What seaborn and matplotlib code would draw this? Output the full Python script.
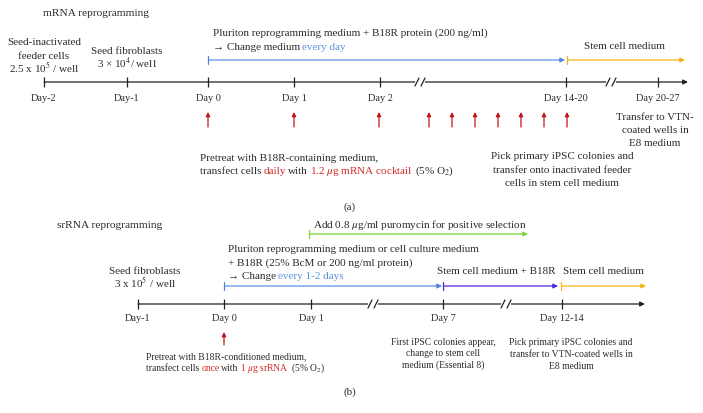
import numpy as np
import pandas as pd
import seaborn as sns
import matplotlib.pyplot as plt

# === Timeline data
MRNA_DAYS = ["Day-2", "Day-1", "Day 0", "Day 1", "Day 2", "Day 14-20", "Day 20-27"]
MRNA_X = [44, 127, 208, 294, 380, 566, 658]
MRNA_BREAKS = [420, 611]
MRNA_TRANSFECT_X = [208, 294, 379, 429, 452, 475, 498, 521, 544, 567]

SRNA_DAYS = ["Day-1", "Day 0", "Day 1", "Day 7", "Day 12-14"]
SRNA_X = [138, 224, 311, 443, 562]
SRNA_BREAKS = [373, 506]
SRNA_TRANSFECT_X = [224]

# medium phases: (start, end, colour)
MRNA_PHASES = [(208, 565, "blue"), (567, 685, "yellow")]
SRNA_PHASES = [(224, 442, "blue"), (443, 558, "purple"), (561, 646, "yellow")]
SRNA_SELECTION = (309, 528, "green")

# === Style
TXT = "#2b2b2b"
AXIS = "#222222"
RED = "#c0141c"
RED_TXT = "#d42a2a"
BLUE_TXT = "#5b95dc"
LINE_COLORS = {"blue": "#8db6ea", "yellow": "#f9cd5e", "purple": "#8a6be8", "green": "#9be26a"}
HEAD_COLORS = {"blue": "#4f86e0", "yellow": "#f2b21e", "purple": "#4a2ee0", "green": "#7ed23e"}
BODY = 8.0
SMALL = 6.9

sns.set_theme(style="white")
plt.rcParams["font.family"] = ["Liberation Serif", "DejaVu Serif"]
plt.rcParams["mathtext.fontset"] = "stix"

fig = plt.figure(figsize=(7.03, 4.13), dpi=100)
ax = fig.add_axes([0, 0, 1, 1])
ax.set_xlim(0, 703)
ax.set_ylim(413, 0)
ax.axis("off")
renderer = fig.canvas.get_renderer()


def baseline(y, size):
    # centre of a line of text -> its baseline (pixels, y grows downward)
    return y + 0.33 * size * 100 / 72


def timeline(y, xs, labels, breaks, x_end, label_dy):
    ax.annotate("", xy=(x_end, y), xytext=(xs[0], y),
                arrowprops=dict(arrowstyle="-|>", color=AXIS, lw=0.9,
                                mutation_scale=7, shrinkA=0, shrinkB=0), zorder=1)
    ticks = pd.DataFrame({"x": xs, "y": [y] * len(xs)})
    sns.scatterplot(data=ticks, x="x", y="y", marker="|", s=60, color=AXIS,
                    linewidth=0.9, ax=ax, legend=False, zorder=2)
    for bx in breaks:
        ax.plot([bx - 3, bx + 3], [y, y], color="white", lw=3, zorder=3)
        for dx in (-3, 3):
            ax.plot([bx + dx - 2, bx + dx + 2], [y + 4, y - 4], color=AXIS, lw=0.9, zorder=4)
    for x, lab in zip(xs, labels):
        ax.text(x, baseline(y + label_dy, 7.4), lab, ha="center", va="baseline",
                fontsize=7.4, color=TXT)


def phase(x0, x1, y, name):
    ax.plot([x0, x1 - 5], [y, y], color=LINE_COLORS[name], lw=1.3, solid_capstyle="butt")
    ax.plot([x0, x0], [y - 4, y + 4], color=HEAD_COLORS[name], lw=0.9)
    ax.annotate("", xy=(x1, y), xytext=(x1 - 6, y),
                arrowprops=dict(arrowstyle="-|>", color=HEAD_COLORS[name], lw=0.8,
                                mutation_scale=7, shrinkA=0, shrinkB=0))


def transfect(xs, y_top, y_bot):
    for x in xs:
        ax.annotate("", xy=(x, y_top), xytext=(x, y_bot),
                    arrowprops=dict(arrowstyle="-|>", color=RED, lw=0.9,
                                    mutation_scale=6, shrinkA=0, shrinkB=0))


def width(s, size):
    t = ax.text(0, 0, s, fontsize=size)
    w = t.get_window_extent(renderer).width
    t.remove()
    return w


def rich(x, y, pieces, size):
    sp = 0.8 * (width("x x", size) - width("xx", size))
    cur = x
    for txt, col in pieces:
        t = ax.text(cur, baseline(y, size), txt, color=col, fontsize=size,
                    ha="left", va="baseline")
        cur += t.get_window_extent(renderer).width + sp


def note(x, y, s, size=BODY, ha="center", color=TXT, dy=13):
    lines = s.split("\n")
    n = len(lines)
    for i, line in enumerate(lines):
        yc = y + (i - (n - 1) / 2) * dy
        ax.text(x, baseline(yc, size), line, ha=ha, va="baseline", fontsize=size, color=color)


# ---------------- (a) mRNA reprogramming ----------------
note(43, 12, "mRNA reprogramming", size=8.2, ha="left")
timeline(82, MRNA_X, MRNA_DAYS, MRNA_BREAKS, 688, 16)
for x0, x1, c in MRNA_PHASES:
    phase(x0, x1, 60, c)
transfect(MRNA_TRANSFECT_X, 112, 127)

note(44, 55, "Seed-inactivated\nfeeder cells\n2.5 x 10$^5$ / well", dy=13.5)
note(127, 57, "Seed fibroblasts\n3 × 10$^4$/ well", dy=13.5)
note(213, 32, "Pluriton reprogramming medium + B18R protein (200 ng/ml)", ha="left")
rich(213, 46, [("→ Change medium", TXT), ("every day", BLUE_TXT)], BODY)
note(624, 45, "Stem cell medium")
note(200, 157, "Pretreat with B18R-containing medium,", ha="left")
rich(200, 170, [("transfect cells", TXT), ("daily", RED_TXT), ("with", TXT),
                ("1.2 $\\mu$g mRNA cocktail", RED_TXT), ("(5% O$_2$)", TXT)], BODY)
note(562, 169, "Pick primary iPSC colonies and\ntransfer onto inactivated feeder\ncells in stem cell medium", dy=13.5)
note(655, 129, "Transfer to VTN-\ncoated wells in\nE8 medium", dy=13)
note(350, 206, "(a)", size=7.8)

# ---------------- (b) srRNA reprogramming ----------------
note(57, 224, "srRNA reprogramming", size=8.2, ha="left")
note(420, 224, "Add 0.8 $\\mu$g/ml puromycin for positive selection")
phase(SRNA_SELECTION[0], SRNA_SELECTION[1], 234, SRNA_SELECTION[2])
note(228, 248, "Pluriton reprogramming medium or cell culture medium", ha="left")
note(228, 262, "+ B18R (25% BcM or 200 ng/ml protein)", ha="left")
rich(228, 275, [("→ Change", TXT), ("every 1-2 days", BLUE_TXT)], BODY)
for x0, x1, c in SRNA_PHASES:
    phase(x0, x1, 286, c)
note(496, 270, "Stem cell medium + B18R")
note(603, 270, "Stem cell medium")
note(145, 277, "Seed fibroblasts\n3 x 10$^5$ / well", dy=13.5)

timeline(304, SRNA_X, SRNA_DAYS, SRNA_BREAKS, 645, 14)
transfect(SRNA_TRANSFECT_X, 332, 345)

note(146, 356, "Pretreat with B18R-conditioned medium,", size=SMALL, ha="left")
rich(146, 368, [("transfect cells", TXT), ("once", RED_TXT), ("with", TXT),
                ("1 $\\mu$g srRNA", RED_TXT), ("(5% O$_2$)", TXT)], SMALL)
note(443, 353, "First iPSC colonies appear,\nchange to stem cell\nmedium (Essential 8)", size=SMALL, dy=11.5)
note(571, 354, "Pick primary iPSC colonies and\ntransfer to VTN-coated wells in\nE8 medium", size=SMALL, dy=12)
note(350, 391, "(b)", size=7.8)

ax.set_xlim(0, 703)
ax.set_ylim(413, 0)
fig.savefig("out.png", dpi=100)
